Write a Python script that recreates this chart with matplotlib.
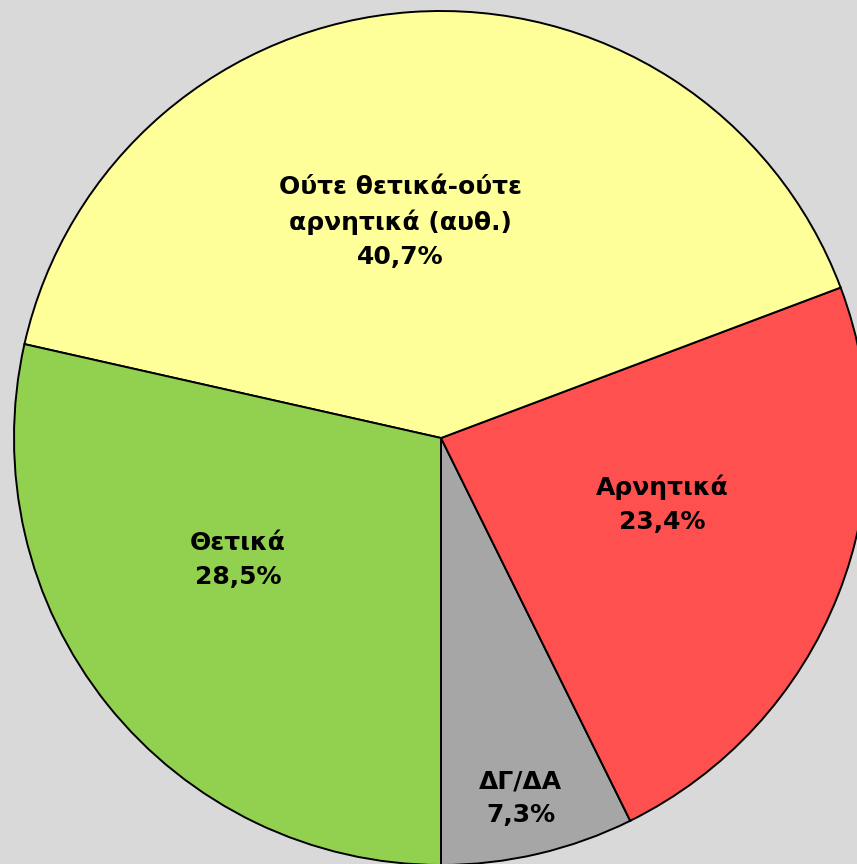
import matplotlib
matplotlib.use("Agg")
import matplotlib.pyplot as plt

# data (order as drawn, counter-clockwise starting from the bottom)
labels = ["ΔΓ/ΔΑ", "Αρνητικά", "Ούτε θετικά-ούτε\nαρνητικά (αυθ.)", "Θετικά"]
values = [7.3, 23.4, 40.7, 28.5]
colors = ["#A6A6A6", "#FF5050", "#FFFF99", "#92D050"]
# label positions in units of the pie radius
label_pos = [(0.187, -0.843), (0.518, -0.155), (-0.096, 0.506), (-0.475, -0.286)]

fig = plt.figure(figsize=(8.57, 8.64), dpi=100)
fig.patch.set_facecolor("#D9D9D9")
ax = fig.add_axes([0, 0, 1, 1])
ax.set_facecolor("#D9D9D9")

ax.pie(values, colors=colors, startangle=-90, counterclock=True,
       radius=1.0, normalize=True,
       wedgeprops=dict(edgecolor="black", linewidth=1.4))

for lab, v, (x, y) in zip(labels, values, label_pos):
    txt = lab + "\n" + ("%.1f" % v).replace(".", ",") + "%"
    ax.text(x, y, txt, ha="center", va="center", fontsize=18,
            fontweight="bold", family="DejaVu Sans", linespacing=1.5)

ax.set_xlim(-441 / 427, 416 / 427)
ax.set_ylim((438 - 864) / 427, 438 / 427)
ax.set_aspect("auto")
ax.axis("off")

fig.savefig("out.png", dpi=100, facecolor=fig.get_facecolor())
